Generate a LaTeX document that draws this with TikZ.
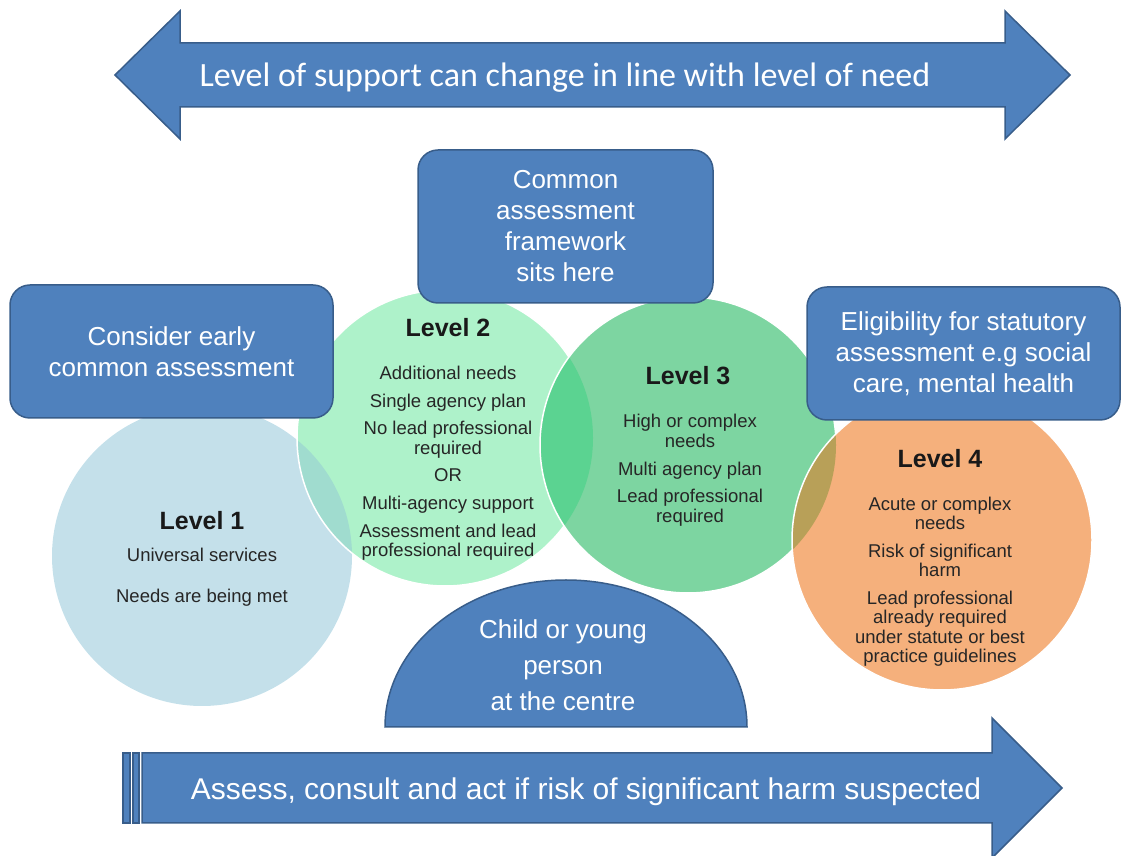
\documentclass[tikz,border=0pt]{standalone}
\usepackage{fontspec}
\setmainfont{Liberation Sans}
\newfontfamily\calfont{Carlito}
\definecolor{boxblue}{HTML}{4F81BD}
\definecolor{boxline}{HTML}{385D8A}
\definecolor{lvonecol}{HTML}{C4E0EA}
\definecolor{lvtwocol}{HTML}{AEF2CA}
\definecolor{lvthreecol}{HTML}{7DD5A1}
\definecolor{lvfourcol}{HTML}{F5B07C}
\definecolor{lensonetwo}{HTML}{A0DCCF}
\definecolor{lenstwothree}{HTML}{5BD391}
\definecolor{lensthreefour}{HTML}{B8A058}
\begin{document}
\begin{tikzpicture}[x=1pt,y=1pt,
  bigarrow/.style={fill=boxblue, draw=boxline, line width=1.5pt, line join=miter},
  bluebox/.style={bigarrow, rounded corners=20pt, text=white, align=center, inner sep=0pt, font=\fontsize{26}{31}\selectfont},
  lvcirc/.style={circle, inner sep=0pt, outer sep=0pt},
  ringline/.style={draw=white, line width=1.5pt},
  lvhead/.style={text=black!90, font=\bfseries\fontsize{25}{30}\selectfont},
  lvtext/.style={anchor=north, align=center, inner sep=0pt, text=black!85, font=\fontsize{18.5}{19.5}\selectfont}]
\useasboundingbox (0,0) rectangle (1121,856);
\node[lvcirc, fill=lvonecol, minimum size=300pt] (lv1) at (202,300){};
\node[lvcirc, fill=lvtwocol, minimum size=296pt] (lv2) at (445,418){};
\begin{scope}
\clip (lv1.center) circle (150pt);
\fill[lensonetwo] (lv2.center) circle (148pt);
\end{scope}
\draw[ringline] (lv2.center) circle (148pt);
\node[lvcirc, fill=lvthreecol, minimum size=296pt] (lv3) at (688,411){};
\begin{scope}
\clip (lv2.center) circle (148pt);
\fill[lenstwothree] (lv3.center) circle (148pt);
\end{scope}
\draw[ringline] (lv3.center) circle (148pt);
\node[lvcirc, fill=lvfourcol, minimum size=300pt] (lv4) at (942,316){};
\begin{scope}
\clip (lv3.center) circle (148pt);
\fill[lensthreefour] (lv4.center) circle (150pt);
\end{scope}
\draw[ringline] (lv4.center) circle (150pt);
\node[lvhead] (head1) at (202,335){Level 1};
\node[lvtext] (text1) at (202,308.6){Universal services\\[22pt]Needs are being met};
\node[lvhead] (head2) at (448,528){Level 2};
\node[lvtext] (text2) at (448,489.6){Additional needs\\[8pt]Single agency plan\\[8pt]No lead professional\\required\\[8pt]OR\\[8pt]Multi-agency support\\[8pt]Assessment and lead\\professional required};
\node[lvhead] (head3) at (688,480){Level 3};
\node[lvtext] (text3) at (690,441.6){High or complex\\needs\\[8pt]Multi agency plan\\[8pt]Lead professional\\required};
\node[lvhead] (head4) at (940,397){Level 4};
\node[lvtext] (text4) at (940,359.6){Acute or complex\\needs\\[8pt]Risk of significant\\harm\\[8pt]Lead professional\\already required\\under statute or best\\practice guidelines};
\node[bluebox, minimum width=323pt, minimum height=133pt] (early) at (171.5,504.5){Consider early\\common assessment};
\node[bluebox, minimum width=295pt, minimum height=153pt] (frame) at (565.5,629.5){Common\\assessment\\framework\\sits here};
\node[bluebox, minimum width=313pt, minimum height=133pt] (elig) at (963.5,502.5){Eligibility for statutory\\assessment e.g social\\care, mental health};
\draw[bigarrow] (385,129) arc[start angle=180, end angle=0, x radius=181, y radius=147] -- cycle;
\node[align=center, text=white, font=\fontsize{26}{36}\selectfont] (child) at (563,191){Child or young\\person\\at the centre};
\draw[bigarrow] (115,781) -- (180,845) -- (180,813) -- (1005,813) -- (1005,845) -- (1070,781)
  -- (1005,717) -- (1005,749) -- (180,749) -- (180,717) -- cycle;
\node[text=white, font=\calfont\fontsize{34}{40}\selectfont] (need) at (565,778){Level of support can change in line with level of need};
\draw[bigarrow] (123,33) rectangle (130,103);
\draw[bigarrow] (133,33) rectangle (139,103);
\draw[bigarrow] (142,103) -- (992,103) -- (992,138) -- (1062,68) -- (992,-2) -- (992,33) -- (142,33) -- cycle;
\node[text=white, font=\fontsize{30}{36}\selectfont] (harm) at (586,64){Assess, consult and act if risk of significant harm suspected};
\end{tikzpicture}
\end{document}
